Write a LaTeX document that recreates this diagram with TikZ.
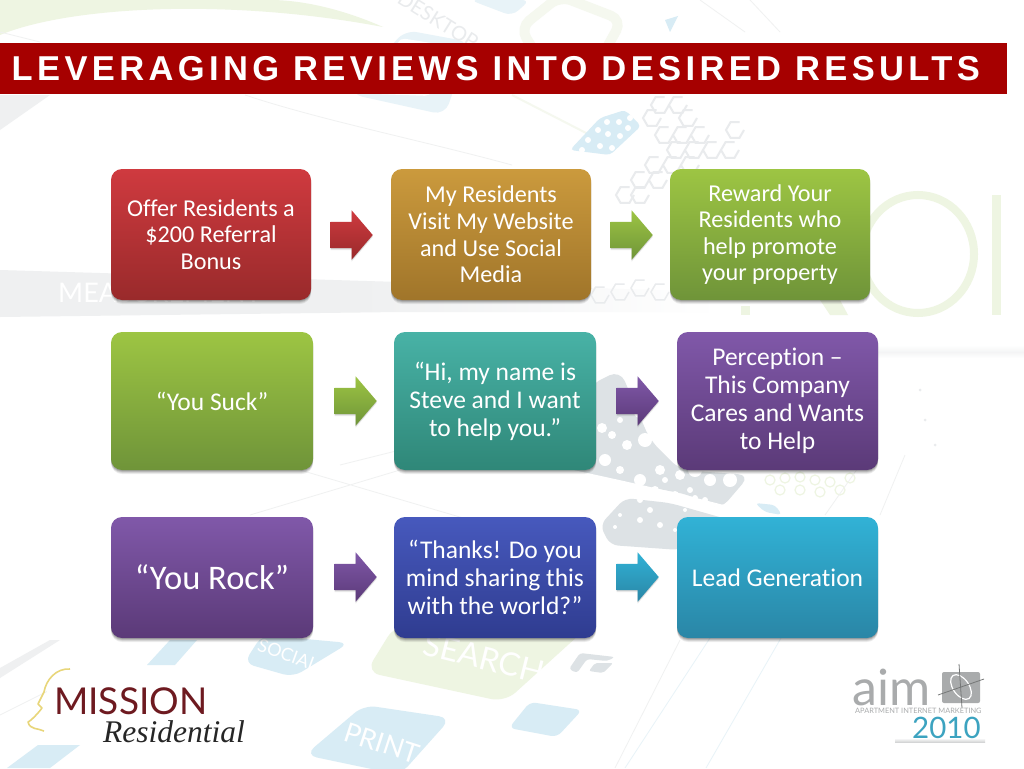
\documentclass[tikz,border=0pt]{standalone}
\usepackage{fontspec}
\setmainfont[Ligatures=NoCommon]{Carlito}
\newfontfamily\titlefont[LetterSpace=12.7]{Liberation Sans}
\newfontfamily\logofont{Lato}
\newfontfamily\logoserif{Liberation Serif}
\usetikzlibrary{shapes.arrows,shadows}
\definecolor{paleblue}{HTML}{D8ECF5}
\definecolor{paleblueB}{HTML}{E8F3F8}
\definecolor{palegreen}{HTML}{EEF5E2}
\definecolor{palegreenB}{HTML}{F5F8EF}
\definecolor{palegrey}{HTML}{EFF0F1}
\definecolor{dotgrey}{HTML}{DDE2E5}
\definecolor{hexgrey}{HTML}{E9EBED}
\definecolor{lineg}{HTML}{F0F1F1}
\definecolor{titlered}{HTML}{A60000}
\definecolor{redT}{HTML}{CF3A3F}\definecolor{redB}{HTML}{992A2B}
\definecolor{goldT}{HTML}{CB9A3D}\definecolor{goldB}{HTML}{A0752A}
\definecolor{greenT}{HTML}{9DC543}\definecolor{greenB}{HTML}{6F9439}
\definecolor{tealT}{HTML}{48B2A6}\definecolor{tealB}{HTML}{2F8778}
\definecolor{purpT}{HTML}{8058A9}\definecolor{purpB}{HTML}{5B3A78}
\definecolor{blueT}{HTML}{4759BD}\definecolor{blueB}{HTML}{2F3C90}
\definecolor{cyanT}{HTML}{31B2D6}\definecolor{cyanB}{HTML}{2A86A6}
\definecolor{aimgrey}{HTML}{A9ABAC}
\definecolor{aimteal}{HTML}{3CA3C0}
\definecolor{missred}{HTML}{6E1A20}
\definecolor{faceyellow}{HTML}{E8D67A}
\tikzset{
  x=1pt,y=-1pt,
  softshadow/.style={
    general shadow={shadow xshift=0pt,shadow yshift=-4pt,opacity=.07,fill=black},
    general shadow={shadow xshift=0pt,shadow yshift=-3pt,opacity=.09,fill=black},
    general shadow={shadow xshift=0pt,shadow yshift=-2pt,opacity=.12,fill=black},
    general shadow={shadow xshift=0pt,shadow yshift=-1pt,opacity=.14,fill=black}},
  card/.style 2 args={rounded corners=11pt,draw=none,softshadow,top color=#1,bottom color=#2,
    text=white,align=center,inner sep=0pt},
  textA/.style={font=\fontsize{24.2}{26.6}\selectfont},
  textB/.style={font=\fontsize{25.5}{28.1}\selectfont},
  blockarrow/.style 2 args={single arrow,draw=none,
    general shadow={shadow xshift=0pt,shadow yshift=-2pt,opacity=.08,fill=black},
    general shadow={shadow xshift=0pt,shadow yshift=-1pt,opacity=.1,fill=black},
    top color=#1,bottom color=#2,anchor=tip,
    minimum width=49pt,minimum height=42pt,single arrow head extend=11.5pt,single arrow tip angle=99,
    single arrow head indent=0pt,inner sep=0pt,inner ysep=13pt},
  ghost/.style={text=white,inner sep=0pt,font=\logofont\fontsize{#1}{#1}\selectfont},
  bgline/.style={draw=lineg,line width=.8pt},
  hexline/.style={draw=hexgrey,line width=2pt},
}
\begin{document}
\begin{tikzpicture}
\useasboundingbox (0,0) rectangle (1024,768);
\fill[white] (0,0) rectangle (1024,768);
% --- background artwork
\fill[palegreen] (0,0) -- (0,35) .. controls (70,6) and (230,-2) .. (383,27) .. controls (340,8) and (300,0) .. (270,0) -- cycle;
\fill[palegrey] (0,130) -- (50,95) -- (0,95) -- cycle;
\shade[left color=palegrey,right color=white,middle color=palegrey] (0,270) -- (400,282) -- (720,292) -- (720,312) -- (400,312) -- (0,317) -- cycle;
\shade[top color=white,bottom color=palegrey!70] (878,345) rectangle (1024,352);
\shade[top color=palegrey!70,bottom color=white] (878,352) rectangle (1024,358);
\draw[bgline] (245,95) .. controls (320,120) and (420,140) .. (512,165);
\draw[bgline] (0,32) -- (40,42);
\fill[paleblueB,rounded corners=12pt] (405,30) -- (470,42) -- (445,115) -- (350,94) -- cycle;
\fill[white,rounded corners=5pt] (400,38) -- (450,46) -- (430,96) -- (375,94) -- cycle;
\fill[paleblueB,rounded corners=8pt] (470,0) -- (530,0) -- (512,16) -- cycle;
\draw[palegreenB,line width=10pt,rounded corners=12pt] (520,28) -- (560,-4) -- (622,20) -- (600,60) -- (540,60) -- cycle;
\fill[paleblue] (665,20) -- (678,16) -- (670,32) -- cycle;
\draw[palegreenB,line width=2pt] (512,95) -- (590,135);
\draw[bgline] (700,0) -- (745,32) (750,0) -- (780,32);
% dotted blue patch
\fill[paleblue,rounded corners=4pt] (600,118) -- (625,110) -- (641,126) -- (610,155) -- (570,150) -- cycle;
\foreach \px/\py in {607/122,619/122,628/128,598/130,608/134,620/136,588/140,600/146,612/148,582/150,630/118}
  \fill[white] (\px,\py) circle (3);
% hexagon clusters
\foreach \hx/\hy in {660/105,678/105,652/118,688/118,700/135,682/135,664/135,712/150,694/150,676/150,690/165,672/165,654/165,640/180,658/180,640/195,625/195,735/130,730/150}
  \draw[hexline] (\hx,\hy) +(0:9) -- +(60:9) -- +(120:9) -- +(180:9) -- +(240:9) -- +(300:9);
\foreach \hx/\hy in {600/295,620/292,640/288,660/292}
  \draw[hexline,line width=1.5pt] (\hx,\hy) +(0:9) -- +(60:9) -- +(120:9) -- +(180:9) -- +(240:9) -- +(300:9);
% giant letters
\draw[palegreen,line width=8pt] (918,254) ellipse (56 and 59);
\fill[palegreen] (992,195) rectangle (1001,315);
\fill[palegreen] (741,306) rectangle (750,315);
\fill[palegreen] (820,300) -- (840,300) -- (848,315) -- (830,315) -- cycle;
\node[ghost=27,anchor=west] (meas) at (58,293) {MEASUREMENT};
% dot field
\fill[dotgrey,rounded corners=12pt] (590,385) -- (620,370) -- (650,440) -- (680,470) -- (750,475) -- (720,510) -- (690,495) -- (560,470) -- (580,420) -- cycle;
\fill[dotgrey,rounded corners=8pt] (625,498) -- (670,503) -- (730,520) -- (680,550) -- (610,545) -- (600,525) -- cycle;
\foreach \px/\py/\pr in {602/428/5,620/420/3,640/412/6,605/460/6,627/445/5,645/440/7,660/432/4,670/445/4,600/480/3,620/470/4,640/480/6,660/470/5,680/475/5,695/470/7,710/480/6,730/480/7,655/490/4,675/495/4,695/498/3,612/435/4,590/440/3,625/410/3,665/480/3,690/490/3,705/500/3,640/500/3,640/520/3,660/525/3,615/527/2,675/530/2,620/515/2,650/510/3,685/510/2}
  \fill[white] (\px,\py) circle (\pr);
\fill[white] (550,465) .. controls (620,480) and (690,495) .. (760,515) .. controls (700,502) and (620,495) .. (540,480) -- cycle;
\foreach \px/\py in {770/480,785/478,800/477,815/480,830/482,850/478,780/490,800/490,820/492,840/490}
  \draw[palegreen,line width=1.2pt] (\px,\py) circle (5);
\fill[paleblue,rounded corners=4pt] (755,503) -- (775,505) -- (782,515) -- (765,512) -- cycle;
\draw[bgline] (905,455) -- (880,515) (860,465) -- (825,515);
\draw[bgline] (470,520) -- (300,470) (400,470) -- (250,515) (400,450) -- (340,465);
\foreach \hx/\hy in {920/390,925/420,935/445}
  \fill[hexgrey] (\hx,\hy) circle (1.5);
% lower tiles
\fill[paleblue,rounded corners=10pt] (262,635) -- (349,643) -- (293,677) -- (244,663) -- cycle;
\fill[palegreen,rounded corners=14pt] (395,625) -- (590,625) -- (505,702) -- (366,672) -- cycle;
\fill[paleblue,rounded corners=12pt] (364,705) -- (451,718) -- (400,775) -- (305,755) -- cycle;
\fill[paleblue,rounded corners=6pt] (530,702) -- (582,710) -- (557,737) -- (509,728) -- cycle;
\fill[dotgrey,rounded corners=3pt] (580,653) -- (615,657) -- (607,661) -- (587,659) -- (577,673) -- (569,669) -- cycle;
\fill[dotgrey,rounded corners=2pt] (595,663) -- (613,663) -- (603,673) -- (589,671) -- cycle;
\fill[paleblue] (147,665) -- (170,640) -- (197,640) -- (175,665) -- cycle;
\fill[paleblue] (7,768) -- (38,745) -- (80,745) -- (50,768) -- cycle;
\fill[palegrey] (0,678) -- (60,640) -- (50,640) -- (0,668) -- cycle;
\draw[bgline] (0,715) -- (50,690);
\draw[bgline] (615,768) -- (680,640);
\draw[draw=paleblueB,line width=.8pt] (625,768) -- (710,638) (706,768) -- (781,638);
\node[ghost=18,rotate=-20] (social) at (288,655) {SOCIAL};
\node[ghost=32,rotate=-14] (search) at (484,658) {SEARCH};
\node[ghost=27,rotate=-18] (print) at (382,743) {PRINT};
\node[rotate=-32,text=hexgrey,inner sep=0pt,font=\logofont\fontsize{20}{20}\selectfont] (desktop) at (438,20) {DESKTOP};
% --- title
\fill[titlered] (0,43) rectangle (1007,94);
\node[anchor=west,text=white,inner sep=0pt,font=\titlefont\bfseries\fontsize{34.5}{34.5}\selectfont] (title) at (11.5,68.5) {LEVERAGING REVIEWS INTO DESIRED RESULTS};
% --- cards
\node[card={redT}{redB},textA,minimum width=200pt,minimum height=131pt] (a1) at (211,234.5) {Offer Residents a\\\$200 Referral\\Bonus};
\node[card={goldT}{goldB},textA,minimum width=200pt,minimum height=131pt] (a2) at (491,234.5) {My Residents\\Visit My Website\\and Use Social\\Media};
\node[card={greenT}{greenB},textA,minimum width=200pt,minimum height=131pt] (a3) at (770,234.5) {Reward Your\\Residents who\\help promote\\your property};
\node[card={greenT}{greenB},textB,minimum width=202pt,minimum height=138pt] (b1) at (212,401) {“You Suck”};
\node[card={tealT}{tealB},textB,minimum width=202pt,minimum height=138pt] (b2) at (495,401) {“Hi, my name is\\Steve and I want\\to help you.”};
\node[card={purpT}{purpB},textB,minimum width=201pt,minimum height=138pt] (b3) at (777.5,401) {Perception –\\This Company\\Cares and Wants\\to Help};
\node[card={purpT}{purpB},font=\fontsize{34.5}{38}\selectfont,minimum width=202pt,minimum height=121pt] (c1) at (212,577.5) {“You Rock”};
\node[card={blueT}{blueB},textB,minimum width=202pt,minimum height=121pt] (c2) at (495,577.5) {“Thanks! Do you\\mind sharing this\\with the world?”};
\node[card={cyanT}{cyanB},textB,minimum width=201pt,minimum height=121pt] (c3) at (777.5,577.5) {Lead Generation};
% --- block arrows between cards
\node[blockarrow={redT}{redB}] (ar1) at (373,235) {};
\node[blockarrow={greenT}{greenB}] (ar2) at (653,235) {};
\node[blockarrow={greenT}{greenB}] (br1) at (377,401) {};
\node[blockarrow={purpT}{purpB}] (br2) at (659,401) {};
\node[blockarrow={purpT}{purpB}] (cr1) at (377,577) {};
\node[blockarrow={cyanT}{cyanB}] (cr2) at (659,577) {};
% --- Mission logo
\fill[white] (47,666) rectangle (248,745);
\draw[faceyellow,line width=1.6pt,line join=round] (70,669) .. controls (56,668) and (46,680) .. (44,692) -- (38,704) -- (42,708) .. controls (36,716) and (29,722) .. (28,722) .. controls (30,730) and (38,728) .. (44,731);
\node[anchor=west,inner sep=0pt,text=missred,font=\logofont\fontsize{37}{37}\selectfont] (mission) at (54,701) {MISSION};
\node[anchor=west,inner sep=0pt,text=black!85,font=\logoserif\itshape\fontsize{31.5}{31.5}\selectfont] (resid) at (103,732) {Residential};
% --- AIM logo
\node[anchor=base west,inner sep=0pt,text=aimgrey,font=\logofont\fontsize{50}{50}\selectfont] (aim) at (852,705) {aim};
\fill[aimgrey,rounded corners=2pt] (942,672) rectangle (980,703);
\draw[white,line width=1.2pt,rotate around={35:(961,687)}] (961,687) ellipse (8 and 14);
\draw[aimgrey!70!black,line width=.8pt] (959,664) -- (962,708) (938,695) -- (984,679);
\node[anchor=base west,inner sep=0pt,text=aimgrey,font=\logofont\fontsize{7.4}{8}\selectfont] (aimsub) at (855,713) {APARTMENT INTERNET MARKETING};
\shade[top color=white,bottom color=aimgrey!70,opacity=.7] (895,738) rectangle (985,742);
\node[anchor=base west,inner sep=0pt,text=aimteal,font=\logofont\fontsize{29.5}{29.5}\selectfont] (aimyear) at (912,738) {2010};
\end{tikzpicture}
\end{document}
